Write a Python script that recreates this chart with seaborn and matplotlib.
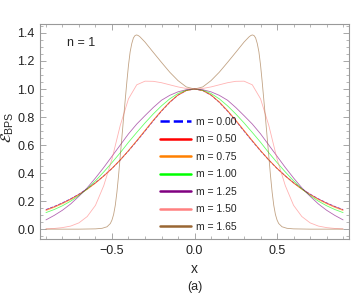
import matplotlib
matplotlib.use('Agg')
import matplotlib.pyplot as plt
import seaborn as sns
from matplotlib.ticker import MultipleLocator

# grid shared by the broad curves
x_grid = [-0.90, -0.85, -0.80, -0.75, -0.70, -0.65, -0.60, -0.55, -0.50, -0.45,
          -0.40, -0.35, -0.30, -0.25, -0.20, -0.15, -0.10, -0.05, 0.00,
          0.05, 0.10, 0.15, 0.20, 0.25, 0.30, 0.35, 0.40, 0.45, 0.50,
          0.55, 0.60, 0.65, 0.70, 0.75, 0.80, 0.85, 0.90]

e_m000 = [0.140, 0.162, 0.188, 0.217, 0.250, 0.288, 0.331, 0.380, 0.433, 0.493,
          0.558, 0.627, 0.699, 0.772, 0.842, 0.905, 0.956, 0.989, 1.000,
          0.989, 0.956, 0.905, 0.842, 0.772, 0.699, 0.627, 0.558, 0.493, 0.433,
          0.380, 0.331, 0.288, 0.250, 0.217, 0.188, 0.162, 0.140]
e_m050 = [0.138, 0.160, 0.186, 0.215, 0.249, 0.287, 0.331, 0.380, 0.434, 0.494,
          0.560, 0.630, 0.702, 0.775, 0.844, 0.906, 0.957, 0.989, 1.000,
          0.989, 0.957, 0.906, 0.844, 0.775, 0.702, 0.630, 0.560, 0.494, 0.434,
          0.380, 0.331, 0.287, 0.249, 0.215, 0.186, 0.160, 0.138]
e_m075 = [0.133, 0.155, 0.181, 0.211, 0.245, 0.284, 0.328, 0.378, 0.433, 0.494,
          0.561, 0.632, 0.705, 0.778, 0.846, 0.908, 0.958, 0.989, 1.000,
          0.989, 0.958, 0.908, 0.846, 0.778, 0.705, 0.632, 0.561, 0.494, 0.433,
          0.378, 0.328, 0.284, 0.245, 0.211, 0.181, 0.155, 0.133]
e_m100 = [0.118, 0.140, 0.167, 0.200, 0.240, 0.288, 0.345, 0.408, 0.475, 0.545,
          0.620, 0.690, 0.758, 0.822, 0.880, 0.930, 0.968, 0.992, 1.000,
          0.992, 0.968, 0.930, 0.880, 0.822, 0.758, 0.690, 0.620, 0.545, 0.475,
          0.408, 0.345, 0.288, 0.240, 0.200, 0.167, 0.140, 0.118]
e_m125 = [0.066, 0.098, 0.135, 0.180, 0.235, 0.295, 0.365, 0.440, 0.520, 0.600,
          0.680, 0.750, 0.810, 0.868, 0.920, 0.955, 0.980, 0.995, 1.000,
          0.995, 0.980, 0.955, 0.920, 0.868, 0.810, 0.750, 0.680, 0.600, 0.520,
          0.440, 0.365, 0.295, 0.235, 0.180, 0.135, 0.098, 0.066]
e_m150 = [0.002, 0.005, 0.011, 0.022, 0.045, 0.090, 0.170, 0.310, 0.500, 0.740,
          0.930, 1.030, 1.056, 1.055, 1.045, 1.030, 1.015, 1.004, 1.000,
          1.004, 1.015, 1.030, 1.045, 1.055, 1.056, 1.030, 0.930, 0.740, 0.500,
          0.310, 0.170, 0.090, 0.045, 0.022, 0.011, 0.005, 0.002]

# the m = 1.65 curve needs a finer grid near its sharp walls
x_brown = [-0.90, -0.80, -0.70, -0.60, -0.56, -0.53, -0.51, -0.50, -0.49, -0.48,
           -0.47, -0.46, -0.45, -0.44, -0.43, -0.42, -0.41, -0.40, -0.39, -0.38,
           -0.37, -0.36, -0.35, -0.34, -0.33, -0.30, -0.25, -0.20, -0.15, -0.10,
           -0.05, 0.00, 0.05, 0.10, 0.15, 0.20, 0.25, 0.30, 0.33, 0.34,
           0.35, 0.36, 0.37, 0.38, 0.39, 0.40, 0.41, 0.42, 0.43, 0.44,
           0.45, 0.46, 0.47, 0.48, 0.49, 0.50, 0.51, 0.53, 0.56, 0.60,
           0.70, 0.80, 0.90]
e_m165 = [0.000, 0.000, 0.000, 0.002, 0.006, 0.017, 0.040, 0.065, 0.105, 0.170,
          0.265, 0.385, 0.520, 0.655, 0.790, 0.920, 1.050, 1.170, 1.265, 1.325,
          1.365, 1.382, 1.386, 1.381, 1.372, 1.335, 1.262, 1.190, 1.120, 1.060,
          1.015, 1.000, 1.015, 1.060, 1.120, 1.190, 1.262, 1.335, 1.372, 1.381,
          1.386, 1.382, 1.365, 1.325, 1.265, 1.170, 1.050, 0.920, 0.790, 0.655,
          0.520, 0.385, 0.265, 0.170, 0.105, 0.065, 0.040, 0.017, 0.006, 0.002,
          0.000, 0.000, 0.000]

labels = ['m = 0.00', 'm = 0.50', 'm = 0.75', 'm = 1.00', 'm = 1.25', 'm = 1.50', 'm = 1.65']
colors = ['#0000ff', '#ff0000', '#ff8000', '#00ff00', '#800080', '#ff8080', '#996633']
curves = [(x_grid, e_m000), (x_grid, e_m050), (x_grid, e_m075), (x_grid, e_m100),
          (x_grid, e_m125), (x_grid, e_m150), (x_brown, e_m165)]

sns.set_style('ticks')
plt.rcParams['font.family'] = ['Liberation Sans', 'DejaVu Sans']
plt.rcParams['mathtext.fontset'] = 'stix'

fig = plt.figure(figsize=(3.54, 3.0), dpi=100)
ax = fig.add_axes([0.113, 0.203, 0.873, 0.717])

for (xs, ys), lab, col in zip(curves, labels, colors):
    ls = '--' if lab == 'm = 0.00' else '-'
    sns.lineplot(x=xs, y=ys, ax=ax, color=col, linewidth=0.6, alpha=0.6,
                 label=lab, linestyle=ls, estimator=None, sort=False)

ax.set_xlim(-0.936, 0.936)
ax.set_ylim(-0.071, 1.464)
ax.xaxis.set_major_locator(MultipleLocator(0.5))
ax.xaxis.set_minor_locator(MultipleLocator(0.1))
ax.yaxis.set_major_locator(MultipleLocator(0.2))
ax.yaxis.set_minor_locator(MultipleLocator(0.05))
ax.tick_params(which='both', direction='in', top=True, right=True,
               color='#999999', labelsize=9, labelcolor='#222222', pad=4)
ax.tick_params(which='major', length=4, width=0.6)
ax.tick_params(which='minor', length=2, width=0.5)
for sp in ax.spines.values():
    sp.set_color('#999999')
    sp.set_linewidth(0.8)

ax.set_xlabel('x', fontsize=10, labelpad=4)
ax.set_ylabel(r'$\mathcal{E}_{\mathregular{BPS}}$', fontsize=11)
ax.yaxis.set_label_coords(-0.078, 0.52)
ax.text(0.087, 0.912, 'n = 1', transform=ax.transAxes, fontsize=9, va='center')
fig.text(0.551, 0.043, '(a)', fontsize=9, ha='center', va='center')

leg = ax.legend(loc='lower left', bbox_to_anchor=(0.365, 0.0), frameon=False,
                fontsize=7.5, handlelength=3.0, handletextpad=0.4,
                labelspacing=0.72, borderaxespad=0.3)
for h in leg.legend_handles:
    h.set_linewidth(1.8)
    h.set_alpha(1.0)

plt.savefig('out.png', dpi=100)
